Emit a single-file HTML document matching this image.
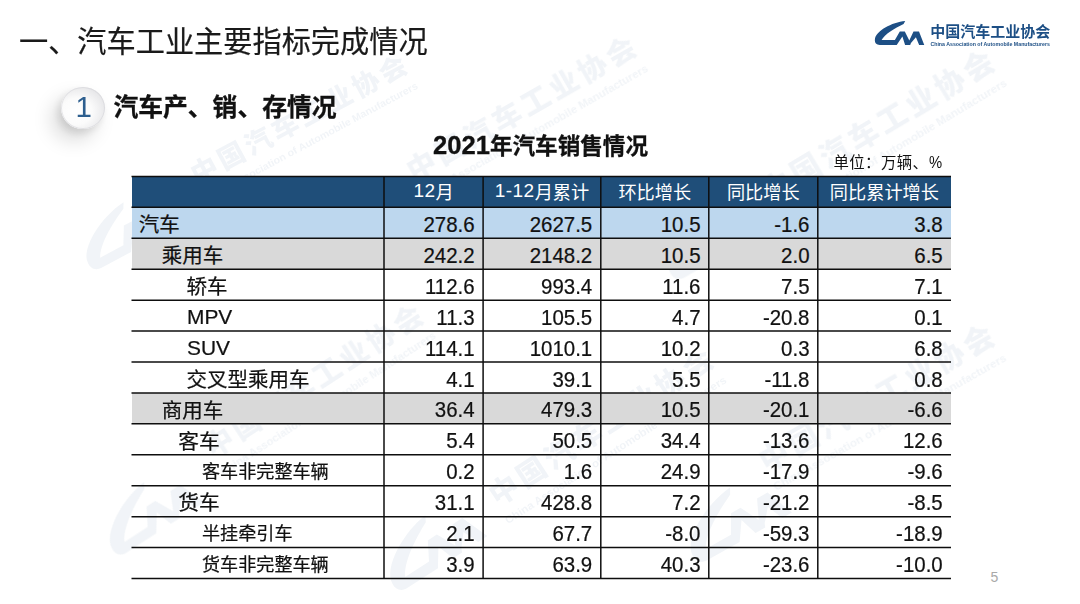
<!DOCTYPE html>
<html lang="zh-CN"><head><meta charset="utf-8"><title>汽车工业主要指标完成情况</title>
<style>
html,body{margin:0;padding:0;background:#fff;}
body{width:1080px;height:604px;position:relative;overflow:hidden;font-family:"Liberation Sans", "Noto Sans CJK SC", sans-serif;color:#111;}
.abs{position:absolute;white-space:nowrap;}
.title{-webkit-text-stroke:.2px #1a1a1a;left:19px;top:22px;font-size:29.2px;line-height:40px;color:#1a1a1a;}
.sub{left:113.4px;top:89.7px;font-size:24.8px;-webkit-text-stroke:.3px #111;line-height:36px;font-weight:700;color:#111;}
.ttl{-webkit-text-stroke:.3px #111;left:340.5px;width:400px;text-align:center;top:128.1px;font-size:22.6px;line-height:34px;font-weight:700;color:#111;}
.ttl b{font-size:25.6px;}
.unit{left:833.4px;top:151.4px;font-size:15.4px;line-height:22px;letter-spacing:.45px;color:#111;}
.unit i{display:inline-block;font-style:normal;font-size:17.2px;line-height:22px;transform:scaleX(.86);transform-origin:0 50%;margin-left:.5px;}
.pg{left:990.6px;top:569px;font-size:14px;line-height:16px;color:#a9a9a9;}
.ball{left:60.6px;top:87.2px;width:44.5px;height:42.3px;border-radius:50%;
  background:radial-gradient(ellipse at 36% 58%,#ffffff 0%,#fbfbfb 38%,#e9e9eb 70%,#d0d1d4 100%);
  box-shadow:-9px 11px 20px rgba(0,0,0,.15), -3px 4px 8px rgba(0,0,0,.10), inset 0 0 0 1px rgba(214,214,218,.6);
  text-align:center;font-size:29.5px;line-height:39.3px;text-indent:1.5px;color:#2e5f8f;}
.row{-webkit-text-stroke:.22px currentColor;position:absolute;left:131.5px;width:819.5px;}
.c{position:absolute;top:0;height:100%;display:flex;align-items:center;white-space:nowrap;box-sizing:border-box;}
.n{justify-content:flex-end;padding-right:8.5px;padding-top:5.2px;font-size:21.3px;transform:scaleX(.96);transform-origin:calc(100% - 8.5px) 50%;}
.l{padding-top:0.4px;}
.la{padding-top:3px;}
.h{justify-content:center;color:#fff;font-size:18.2px;padding-bottom:1px;-webkit-text-stroke:0;}
.h b{font-weight:400;font-size:19px;letter-spacing:.5px;}
</style></head><body>

<svg class="abs" style="left:0;top:0" width="1080" height="604" viewBox="0 0 1080 604"><g fill="#1d4f85" opacity="0.06" font-weight="900"><g transform="translate(392.5 69.1) rotate(-28.2)"><path transform="translate(-250.5 10.0) scale(1.98) translate(-60.2 -17)" d="M35.2 7 C22 8.2 5.5 17 4.9 25.5 C4.5 28.8 6.5 30.95 9.8 30.95 L26.7 30.95 L32.4 22.6 L35.1 30.95 L40.2 30.95 L40.95 29.1 L45.9 23.3 L49.15 30.95 L54.25 30.95 L49 17.5 L43.5 17.5 L39.3 26.5 L34.8 17.5 L29.8 17.5 L24.9 26.1 L11.6 26.1 C14.6 20.2 24.5 14.2 33.6 9.9 Z"/><text text-anchor="middle" font-size="26.8" x="-213.5 -183.0 -152.5 -122.0 -91.5 -61.0 -30.5 0.0" y="9.9">中国汽车工业协会</text><text font-family='"Liberation Sans", sans-serif' font-weight="700" font-size="10.1" x="-227.5" y="29.0" textLength="241.6" lengthAdjust="spacingAndGlyphs">China Association of Automobile Manufacturers</text></g><g transform="translate(620.5 51.3) rotate(-29.8)"><path transform="translate(-244.7 0.0) scale(2.13) translate(-60.2 -17)" d="M35.2 7 C22 8.2 5.5 17 4.9 25.5 C4.5 28.8 6.5 30.95 9.8 30.95 L26.7 30.95 L32.4 22.6 L35.1 30.95 L40.2 30.95 L40.95 29.1 L45.9 23.3 L49.15 30.95 L54.25 30.95 L49 17.5 L43.5 17.5 L39.3 26.5 L34.8 17.5 L29.8 17.5 L24.9 26.1 L11.6 26.1 C14.6 20.2 24.5 14.2 33.6 9.9 Z"/><text text-anchor="middle" font-size="28.9" x="-229.6 -196.8 -164.0 -131.2 -98.4 -65.6 -32.8 0.0" y="10.7">中国汽车工业协会</text><text font-family='"Liberation Sans", sans-serif' font-weight="700" font-size="10.8" x="-244.7" y="31.2" textLength="259.8" lengthAdjust="spacingAndGlyphs">China Association of Automobile Manufacturers</text></g><g transform="translate(978.0 65.7) rotate(-31.0)"><path transform="translate(-249.9 0.0) scale(2.18) translate(-60.2 -17)" d="M35.2 7 C22 8.2 5.5 17 4.9 25.5 C4.5 28.8 6.5 30.95 9.8 30.95 L26.7 30.95 L32.4 22.6 L35.1 30.95 L40.2 30.95 L40.95 29.1 L45.9 23.3 L49.15 30.95 L54.25 30.95 L49 17.5 L43.5 17.5 L39.3 26.5 L34.8 17.5 L29.8 17.5 L24.9 26.1 L11.6 26.1 C14.6 20.2 24.5 14.2 33.6 9.9 Z"/><text text-anchor="middle" font-size="29.5" x="-234.5 -201.0 -167.5 -134.0 -100.5 -67.0 -33.5 0.0" y="10.9">中国汽车工业协会</text><text font-family='"Liberation Sans", sans-serif' font-weight="700" font-size="11.1" x="-249.9" y="31.8" textLength="265.3" lengthAdjust="spacingAndGlyphs">China Association of Automobile Manufacturers</text></g><g transform="translate(407.5 319.5) rotate(-33.0)"><path transform="translate(-257.5 13.6) scale(2.08) translate(-60.2 -17)" d="M35.2 7 C22 8.2 5.5 17 4.9 25.5 C4.5 28.8 6.5 30.95 9.8 30.95 L26.7 30.95 L32.4 22.6 L35.1 30.95 L40.2 30.95 L40.95 29.1 L45.9 23.3 L49.15 30.95 L54.25 30.95 L49 17.5 L43.5 17.5 L39.3 26.5 L34.8 17.5 L29.8 17.5 L24.9 26.1 L11.6 26.1 C14.6 20.2 24.5 14.2 33.6 9.9 Z"/><text text-anchor="middle" font-size="28.2" x="-224.7 -192.6 -160.5 -128.4 -96.3 -64.2 -32.1 0.0" y="10.5">中国汽车工业协会</text><text font-family='"Liberation Sans", sans-serif' font-weight="700" font-size="10.6" x="-239.5" y="30.5" textLength="254.2" lengthAdjust="spacingAndGlyphs">China Association of Automobile Manufacturers</text></g><g transform="translate(697.5 364.0) rotate(-33.0)"><path transform="translate(-257.2 0.0) scale(2.14) translate(-60.2 -17)" d="M35.2 7 C22 8.2 5.5 17 4.9 25.5 C4.5 28.8 6.5 30.95 9.8 30.95 L26.7 30.95 L32.4 22.6 L35.1 30.95 L40.2 30.95 L40.95 29.1 L45.9 23.3 L49.15 30.95 L54.25 30.95 L49 17.5 L43.5 17.5 L39.3 26.5 L34.8 17.5 L29.8 17.5 L24.9 26.1 L11.6 26.1 C14.6 20.2 24.5 14.2 33.6 9.9 Z"/><text text-anchor="middle" font-size="29.0" x="-231.0 -198.0 -165.0 -132.0 -99.0 -66.0 -33.0 0.0" y="10.7">中国汽车工业协会</text><text font-family='"Liberation Sans", sans-serif' font-weight="700" font-size="10.9" x="-246.2" y="31.3" textLength="261.4" lengthAdjust="spacingAndGlyphs">China Association of Automobile Manufacturers</text></g><g transform="translate(978.0 340.0) rotate(-29.5)"><path transform="translate(-233.9 28.0) scale(2.18) translate(-60.2 -17)" d="M35.2 7 C22 8.2 5.5 17 4.9 25.5 C4.5 28.8 6.5 30.95 9.8 30.95 L26.7 30.95 L32.4 22.6 L35.1 30.95 L40.2 30.95 L40.95 29.1 L45.9 23.3 L49.15 30.95 L54.25 30.95 L49 17.5 L43.5 17.5 L39.3 26.5 L34.8 17.5 L29.8 17.5 L24.9 26.1 L11.6 26.1 C14.6 20.2 24.5 14.2 33.6 9.9 Z"/><text text-anchor="middle" font-size="29.5" x="-234.5 -201.0 -167.5 -134.0 -100.5 -67.0 -33.5 0.0" y="10.9">中国汽车工业协会</text><text font-family='"Liberation Sans", sans-serif' font-weight="700" font-size="11.1" x="-249.9" y="31.8" textLength="265.3" lengthAdjust="spacingAndGlyphs">China Association of Automobile Manufacturers</text></g></g></svg>
<div class="abs title">一、汽车工业主要指标完成情况</div>
<div class="abs ball">1</div>
<div class="abs sub">汽车产、销、存情况</div>
<div class="abs ttl"><b>2021</b>年汽车销售情况</div>
<div class="abs unit">单位：万辆、<i>%</i></div>
<div class="abs pg">5</div>
<svg class="abs" style="left:870px;top:14px" width="190" height="40" viewBox="0 0 190 40">
<path fill="#1d4f85" d="M35.2 7 C22 8.2 5.5 17 4.9 25.5 C4.5 28.8 6.5 30.95 9.8 30.95 L26.7 30.95 L32.4 22.6 L35.1 30.95 L40.2 30.95 L40.95 29.1 L45.9 23.3 L49.15 30.95 L54.25 30.95 L49 17.5 L43.5 17.5 L39.3 26.5 L34.8 17.5 L29.8 17.5 L24.9 26.1 L11.6 26.1 C14.6 20.2 24.5 14.2 33.6 9.9 Z"/>
<text x="60.2" y="22.6" font-family='"Liberation Sans", "Noto Sans CJK SC", sans-serif' font-weight="700" font-size="15" fill="#1d4f85" textLength="120" lengthAdjust="spacingAndGlyphs">中国汽车工业协会</text>
<text x="60.4" y="32.4" font-family='"Liberation Sans", sans-serif' font-weight="700" font-size="5.2" fill="#1d4f85" textLength="119.6" lengthAdjust="spacingAndGlyphs">China Association of Automobile Manufacturers</text>
</svg>
<div class="row" style="top:176.40px;height:30.95px;background:#1f4e79"><div class="c h" style="left:252.5px;width:99.1px"><b>12</b>月</div><div class="c h" style="left:351.6px;width:117.7px"><b>1-12</b>月累计</div><div class="c h" style="left:469.3px;width:108.0px">环比增长</div><div class="c h" style="left:577.3px;width:109.0px">同比增长</div><div class="c h" style="left:686.3px;width:133.2px">同比累计增长</div></div>
<div class="row" style="top:207.35px;height:30.93px;background:#bdd7ee"><div class="c l" style="left:7.3px;font-size:20.5px">汽车</div><div class="c n" style="left:252.5px;width:99.1px">278.6</div><div class="c n" style="left:351.6px;width:117.7px">2627.5</div><div class="c n" style="left:469.3px;width:108.0px">10.5</div><div class="c n" style="left:577.3px;width:109.0px">-1.6</div><div class="c n" style="left:686.3px;width:133.2px">3.8</div></div>
<div class="row" style="top:238.28px;height:30.93px;background:#d9d9d9"><div class="c l" style="left:30.3px;font-size:20.5px">乘用车</div><div class="c n" style="left:252.5px;width:99.1px">242.2</div><div class="c n" style="left:351.6px;width:117.7px">2148.2</div><div class="c n" style="left:469.3px;width:108.0px">10.5</div><div class="c n" style="left:577.3px;width:109.0px">2.0</div><div class="c n" style="left:686.3px;width:133.2px">6.5</div></div>
<div class="row" style="top:269.21px;height:30.93px;background:transparent"><div class="c l" style="left:54.9px;font-size:20.5px">轿车</div><div class="c n" style="left:252.5px;width:99.1px">112.6</div><div class="c n" style="left:351.6px;width:117.7px">993.4</div><div class="c n" style="left:469.3px;width:108.0px">11.6</div><div class="c n" style="left:577.3px;width:109.0px">7.5</div><div class="c n" style="left:686.3px;width:133.2px">7.1</div></div>
<div class="row" style="top:300.14px;height:30.93px;background:transparent"><div class="c la" style="left:55.5px;font-size:20.9px">MPV</div><div class="c n" style="left:252.5px;width:99.1px">11.3</div><div class="c n" style="left:351.6px;width:117.7px">105.5</div><div class="c n" style="left:469.3px;width:108.0px">4.7</div><div class="c n" style="left:577.3px;width:109.0px">-20.8</div><div class="c n" style="left:686.3px;width:133.2px">0.1</div></div>
<div class="row" style="top:331.07px;height:30.93px;background:transparent"><div class="c la" style="left:55.5px;font-size:20.9px">SUV</div><div class="c n" style="left:252.5px;width:99.1px">114.1</div><div class="c n" style="left:351.6px;width:117.7px">1010.1</div><div class="c n" style="left:469.3px;width:108.0px">10.2</div><div class="c n" style="left:577.3px;width:109.0px">0.3</div><div class="c n" style="left:686.3px;width:133.2px">6.8</div></div>
<div class="row" style="top:362.00px;height:30.93px;background:transparent"><div class="c l" style="left:54.9px;font-size:20.5px">交叉型乘用车</div><div class="c n" style="left:252.5px;width:99.1px">4.1</div><div class="c n" style="left:351.6px;width:117.7px">39.1</div><div class="c n" style="left:469.3px;width:108.0px">5.5</div><div class="c n" style="left:577.3px;width:109.0px">-11.8</div><div class="c n" style="left:686.3px;width:133.2px">0.8</div></div>
<div class="row" style="top:392.93px;height:30.93px;background:#d9d9d9"><div class="c l" style="left:30.3px;font-size:20.5px">商用车</div><div class="c n" style="left:252.5px;width:99.1px">36.4</div><div class="c n" style="left:351.6px;width:117.7px">479.3</div><div class="c n" style="left:469.3px;width:108.0px">10.5</div><div class="c n" style="left:577.3px;width:109.0px">-20.1</div><div class="c n" style="left:686.3px;width:133.2px">-6.6</div></div>
<div class="row" style="top:423.86px;height:30.93px;background:transparent"><div class="c l" style="left:46.7px;font-size:20.7px">客车</div><div class="c n" style="left:252.5px;width:99.1px">5.4</div><div class="c n" style="left:351.6px;width:117.7px">50.5</div><div class="c n" style="left:469.3px;width:108.0px">34.4</div><div class="c n" style="left:577.3px;width:109.0px">-13.6</div><div class="c n" style="left:686.3px;width:133.2px">12.6</div></div>
<div class="row" style="top:454.79px;height:30.93px;background:transparent"><div class="c l" style="left:70.5px;font-size:18.1px">客车非完整车辆</div><div class="c n" style="left:252.5px;width:99.1px">0.2</div><div class="c n" style="left:351.6px;width:117.7px">1.6</div><div class="c n" style="left:469.3px;width:108.0px">24.9</div><div class="c n" style="left:577.3px;width:109.0px">-17.9</div><div class="c n" style="left:686.3px;width:133.2px">-9.6</div></div>
<div class="row" style="top:485.72px;height:30.93px;background:transparent"><div class="c l" style="left:46.7px;font-size:20.7px">货车</div><div class="c n" style="left:252.5px;width:99.1px">31.1</div><div class="c n" style="left:351.6px;width:117.7px">428.8</div><div class="c n" style="left:469.3px;width:108.0px">7.2</div><div class="c n" style="left:577.3px;width:109.0px">-21.2</div><div class="c n" style="left:686.3px;width:133.2px">-8.5</div></div>
<div class="row" style="top:516.65px;height:30.93px;background:transparent"><div class="c l" style="left:70.5px;font-size:18.1px">半挂牵引车</div><div class="c n" style="left:252.5px;width:99.1px">2.1</div><div class="c n" style="left:351.6px;width:117.7px">67.7</div><div class="c n" style="left:469.3px;width:108.0px">-8.0</div><div class="c n" style="left:577.3px;width:109.0px">-59.3</div><div class="c n" style="left:686.3px;width:133.2px">-18.9</div></div>
<div class="row" style="top:547.58px;height:30.93px;background:transparent"><div class="c l" style="left:70.5px;font-size:18.1px">货车非完整车辆</div><div class="c n" style="left:252.5px;width:99.1px">3.9</div><div class="c n" style="left:351.6px;width:117.7px">63.9</div><div class="c n" style="left:469.3px;width:108.0px">40.3</div><div class="c n" style="left:577.3px;width:109.0px">-23.6</div><div class="c n" style="left:686.3px;width:133.2px">-10.0</div></div>
<svg class="abs" style="left:0;top:0" width="1080" height="604" viewBox="0 0 1080 604"><g stroke="#0e0e0e" stroke-width="1.5" fill="none"><line x1="131.5" y1="176.40" x2="951.0" y2="176.40"/><line x1="131.5" y1="207.35" x2="951.0" y2="207.35"/><line x1="131.5" y1="238.28" x2="951.0" y2="238.28"/><line x1="131.5" y1="269.21" x2="951.0" y2="269.21"/><line x1="131.5" y1="300.14" x2="951.0" y2="300.14"/><line x1="131.5" y1="331.07" x2="951.0" y2="331.07"/><line x1="131.5" y1="362.00" x2="951.0" y2="362.00"/><line x1="131.5" y1="392.93" x2="951.0" y2="392.93"/><line x1="131.5" y1="423.86" x2="951.0" y2="423.86"/><line x1="131.5" y1="454.79" x2="951.0" y2="454.79"/><line x1="131.5" y1="485.72" x2="951.0" y2="485.72"/><line x1="131.5" y1="516.65" x2="951.0" y2="516.65"/><line x1="131.5" y1="547.58" x2="951.0" y2="547.58"/><line x1="131.5" y1="578.51" x2="951.0" y2="578.51"/><line x1="384.00" y1="176.40" x2="384.00" y2="578.51"/><line x1="483.10" y1="176.40" x2="483.10" y2="578.51"/><line x1="600.80" y1="176.40" x2="600.80" y2="578.51"/><line x1="708.80" y1="176.40" x2="708.80" y2="578.51"/><line x1="817.80" y1="176.40" x2="817.80" y2="578.51"/></g></svg>
</body></html>
